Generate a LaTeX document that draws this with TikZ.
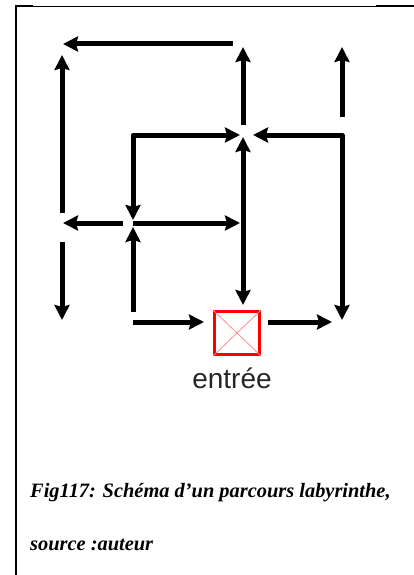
\documentclass[tikz,border=0pt]{standalone}
\usepackage{fontspec}
\setmainfont{Liberation Serif}
\newfontfamily\labelfont{Liberation Sans}
\usetikzlibrary{arrows.meta}

\begin{document}
\begin{tikzpicture}[x=1pt, y=-1pt, >={Stealth[length=15pt,width=15pt,inset=2pt]},
  track/.style={line width=5pt, line join=round}]
\useasboundingbox (0,0) rectangle (414,575);
% --- frame ---
\draw[line width=2pt] (16,575) -- (16,6) -- (33,6);
\draw[line width=1pt] (33,6.5) -- (376,6.5);
\draw[line width=2pt] (376,6.5) -- (414,6.5);
% --- grid of junctions: columns L,M,C,R and rows t,u,m,b ---
\foreach \c/\x in {L/62,M/133,C/243,R/342} {
  \foreach \r/\y in {t/44,u/135,m/223,b/322} {
    \coordinate (\c\r) at (\x,\y);
  }
}
\coordinate (Cs) at (243,215);
% --- entry ---
\node[draw=red, line width=3pt, minimum width=45pt, minimum height=43pt, inner sep=0pt] (entry) at (237,333) {};
\draw[red!45, line width=0.8pt] (entry.north west) -- (entry.south east);
\draw[red!45, line width=0.8pt] (entry.north east) -- (entry.south west);
\node[font=\labelfont\fontsize{28}{32}\selectfont, text=black!85, anchor=base] (entrylabel) at (232,388) {entrée};
% --- paths ---
\draw[track, ->, shorten <=10pt, shorten >=1pt] (Ct) -- (Lt);
\draw[track, ->, shorten <=10pt, shorten >=11pt] (Lm) -- (Lt);
\draw[track, ->, shorten <=10pt, shorten >=3pt] (Cu) -- (Ct);
\draw[track, ->, shorten <=18pt, shorten >=3pt] (Ru) -- (Rt);
\draw[track, <->, shorten <=3pt, shorten >=3pt] (Cu) -- (Mu) -- (Mm);
\draw[track, <->, shorten <=10pt, shorten >=2pt] (Cu) -- (Ru) -- (Rb);
\draw[track, ->, shorten >=2pt] (Cs) -- (Cu);
\draw[track, ->, shorten >=5pt] (Cs) -- (Cs |- entry.north);
\draw[track, ->, shorten <=10pt, shorten >=1pt] (Mm) -- (Lm);
\draw[track, ->, shorten >=3pt] (Mm) -- (Cm);
\draw[track, ->, shorten <=10pt, shorten >=4pt] (Mb) -- (Mm);
\draw[track, ->, shorten <=19pt, shorten >=2pt] (Lm) -- (Lb);
\draw[track, ->, shorten >=9pt] (Mb) -- (Mb -| entry.west);
\draw[track, ->, shorten <=7pt, shorten >=10pt] (Rb -| entry.east) -- (Rb);
% --- caption ---
\node[font=\bfseries\itshape\fontsize{20.4}{24}\selectfont, anchor=base west, inner sep=0pt] (caption) at (30,497) {Fig117: Schéma d’un parcours labyrinthe,};
\node[font=\bfseries\itshape\fontsize{20.4}{24}\selectfont, anchor=base west, inner sep=0pt] (source) at (30,550) {source :auteur};
\end{tikzpicture}
\end{document}
